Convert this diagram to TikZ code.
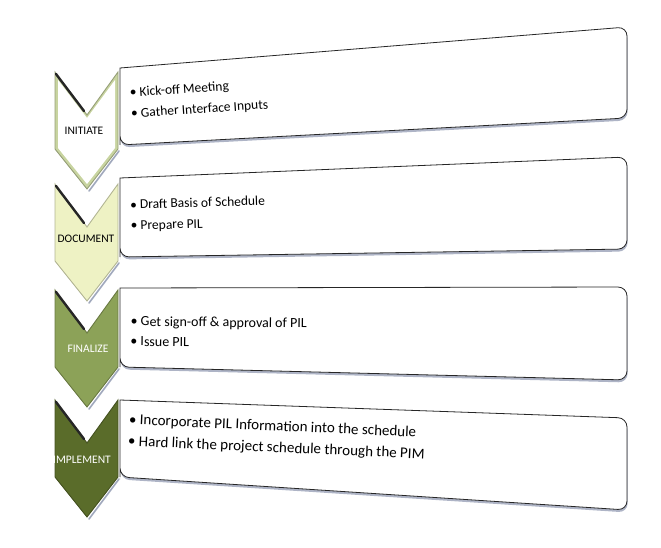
\documentclass[tikz,border=0pt]{standalone}
\usepackage{fontspec}
\setmainfont{Carlito}
\usetikzlibrary{shadows}
\definecolor{initfill}{RGB}{200,212,160}
\definecolor{docfill}{RGB}{238,242,196}
\definecolor{finfill}{RGB}{140,162,88}
\definecolor{impfill}{RGB}{90,108,42}
\definecolor{boxshade}{RGB}{120,130,160}
\begin{document}
\begin{tikzpicture}[x=1pt,y=-1pt,
	stepbox/.style={draw=black!85,line width=0.8pt,fill=white,
		drop shadow={shadow xshift=0.6pt,shadow yshift=-2.5pt,fill=boxshade,opacity=.6}},
	chev/.style={fill=#1,draw=#1!75!black,line width=0.9pt},
	dark/.style={line width=2.4pt,black!85,line cap=round},
	shade/.style={line width=1.6pt,boxshade!70,line cap=round},
	bullets/.style={anchor=west,align=left,font=\fontsize{13.5}{21}\selectfont},
	tag/.style={font=\fontsize{11.5}{12}\selectfont}]
	\useasboundingbox (0,0) rectangle (661,548);
	% boxes
	\draw[stepbox] (120,145) -- (120,68) [rounded corners=9pt] -- (627,27) -- (627,118) -- (120,145) [sharp corners] -- cycle;
	\draw[stepbox] (120,257) -- (120,178) [rounded corners=9pt] -- (627,157) -- (627,249) -- (120,257) [sharp corners] -- cycle;
	\draw[stepbox] (120,367) -- (120,288) [rounded corners=9pt] -- (627,287) -- (627,380) -- (120,367) [sharp corners] -- cycle;
	\draw[stepbox] (120,477) -- (120,400) [rounded corners=9pt] -- (627,418) -- (627,510) -- (120,477) [sharp corners] -- cycle;
	% chevrons
	\draw[shade] (119,151) -- (89,191);
	\draw[chev=initfill] (55,72) -- (87,115) -- (118,72) -- (118,149) -- (87,189) -- (55,149) -- cycle;
	\fill[white] (58,80) -- (87,118) -- (115,80) -- (115,148) -- (87,184) -- (58,148) -- cycle;
	\draw[dark] (56,74) -- (84,111);
	\draw[shade] (119,263) -- (89,303);
	\draw[chev=docfill] (55,184) -- (87,227) -- (118,184) -- (118,261) -- (87,301) -- (55,261) -- cycle;
	\draw[dark] (56,186) -- (84,223);
	\draw[shade] (119,369) -- (89,409);
	\draw[chev=finfill] (55,290) -- (87,333) -- (118,290) -- (118,367) -- (87,407) -- (55,367) -- cycle;
	\draw[dark] (56,292) -- (84,329);
	\draw[shade] (119,479) -- (89,519);
	\draw[chev=impfill] (55,400) -- (87,443) -- (118,400) -- (118,477) -- (87,517) -- (55,477) -- cycle;
	\draw[dark] (56,402) -- (84,439);
	% labels
	\node[tag] (initiate) at (84,131) {INITIATE};
	\node[tag] (document) at (86,239) {DOCUMENT};
	\node[tag,white] (finalize) at (88,349) {FINALIZE};
	\node[tag,white] (implement) at (82,460) {IMPLEMENT};
	\node[bullets,rotate=3.8] (initlist) at (127,104) {\textbullet\ Kick-off Meeting\\ \textbullet\ Gather Interface Inputs};
	\node[bullets,rotate=1.6] (doclist) at (127,216) {\textbullet\ Draft Basis of Schedule\\ \textbullet\ Prepare PIL};
	\node[bullets,rotate=-0.7,font=\fontsize{14}{20}\selectfont] (finlist) at (127,331) {\textbullet\ Get sign-off \& approval of PIL\\ \textbullet\ Issue PIL};
	\node[bullets,rotate=-2.5,font=\fontsize{15}{21.5}\selectfont] (implist) at (125,431) {\textbullet\ Incorporate PIL Information into the schedule\\ \textbullet\ Hard link the project schedule through the PIM};
\end{tikzpicture}
\end{document}
